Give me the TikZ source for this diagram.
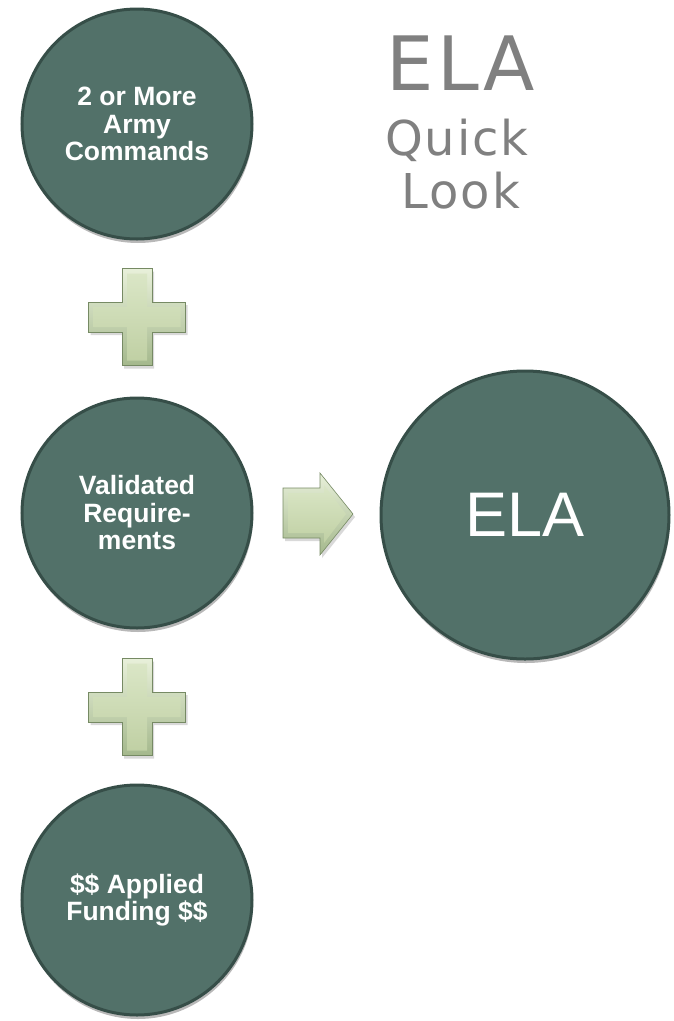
\documentclass[tikz,border=0pt]{standalone}
\usepackage{fontspec}
\setmainfont{Liberation Sans}
\newfontfamily\titlefont[LetterSpace=4]{DejaVu Sans}
\usetikzlibrary{shadows}
\definecolor{circfill}{RGB}{82,113,105}
\definecolor{circedge}{RGB}{54,78,72}
\definecolor{plustop}{RGB}{232,240,218}
\definecolor{plusbot}{RGB}{164,184,140}
\definecolor{plusintop}{RGB}{218,230,198}
\definecolor{plusinbot}{RGB}{192,208,164}
\definecolor{plusedge}{RGB}{118,138,100}
\definecolor{titlegray}{RGB}{128,128,128}
\tikzset{
  disc/.style={circle, inner sep=0pt, fill=circfill, draw=circedge, line width=3pt,
    text=white, align=center,
    drop shadow={shadow xshift=1pt, shadow yshift=-4pt, opacity=0.28, fill=black}},
  smalldisc/.style={disc, minimum size=230pt, font=\bfseries\fontsize{26.5}{27.5}\selectfont},
  bigdisc/.style={disc, minimum size=288pt, font=\fontsize{63}{70}\selectfont},
  titletext/.style={text=titlegray, inner sep=0pt, anchor=base},
  bevelout/.style={draw=plusedge, line width=0.6pt, top color=plustop, bottom color=plusbot},
  bevelin/.style={top color=plusintop, bottom color=plusinbot},
  softshadow/.style={fill=black, opacity=0.15}
}
\newcommand\plusglyph[2]{%
  \begin{scope}[shift={(#1,#2)}]
    \fill[softshadow] (-15+2,-48.5+3) -- (15+2,-48.5+3) -- (15+2,-15+3) -- (48.5+2,-15+3) -- (48.5+2,15+3) -- (15+2,15+3) -- (15+2,48.5+3) -- (-15+2,48.5+3) -- (-15+2,15+3) -- (-48.5+2,15+3) -- (-48.5+2,-15+3) -- (-15+2,-15+3) -- cycle;
    \shade[bevelout] (-15,-48.5) -- (15,-48.5) -- (15,-15) -- (48.5,-15) -- (48.5,15) -- (15,15) -- (15,48.5) -- (-15,48.5) -- (-15,15) -- (-48.5,15) -- (-48.5,-15) -- (-15,-15) -- cycle;
    \shade[bevelin] (-10,-43.5) -- (10,-43.5) -- (10,-10) -- (43.5,-10) -- (43.5,10) -- (10,10) -- (10,43.5) -- (-10,43.5) -- (-10,10) -- (-43.5,10) -- (-43.5,-10) -- (-10,-10) -- cycle;
  \end{scope}}
\begin{document}
\begin{tikzpicture}[x=1pt,y=-1pt]
\useasboundingbox (0,0) rectangle (673,1021);

% title
\node[titletext, font=\titlefont\fontsize{75}{80}\selectfont] (t1) at (461,90) {ELA};
\node[titletext, font=\titlefont\fontsize{48}{52}\selectfont] (t2) at (457,155) {Quick};
\node[titletext, font=\titlefont\fontsize{48}{52}\selectfont] (t3) at (461,208) {Look};

% circles
\node[smalldisc] (c1) at (137,124) {2 or More\\Army\\Commands};
\node[smalldisc] (c2) at (137,513) {Validated\\Require-\\ments};
\node[smalldisc] (c3) at (137,900) {\$\$ Applied\\Funding \$\$};
\node[bigdisc] (ela) at (525,515) {ELA};

% plus signs
\plusglyph{137}{317}
\plusglyph{137}{707}

% arrow
\fill[softshadow] (285,491) -- (322,491) -- (322,476) -- (355,517) -- (322,558) -- (322,541) -- (285,541) -- cycle;
\shade[bevelout] (283,488) -- (320,488) -- (320,473) -- (353,514) -- (320,555) -- (320,538) -- (283,538) -- cycle;
\shade[bevelin] (288,493) -- (324,493) -- (324,485) -- (346,514) -- (324,543) -- (324,533) -- (288,533) -- cycle;
\end{tikzpicture}
\end{document}
